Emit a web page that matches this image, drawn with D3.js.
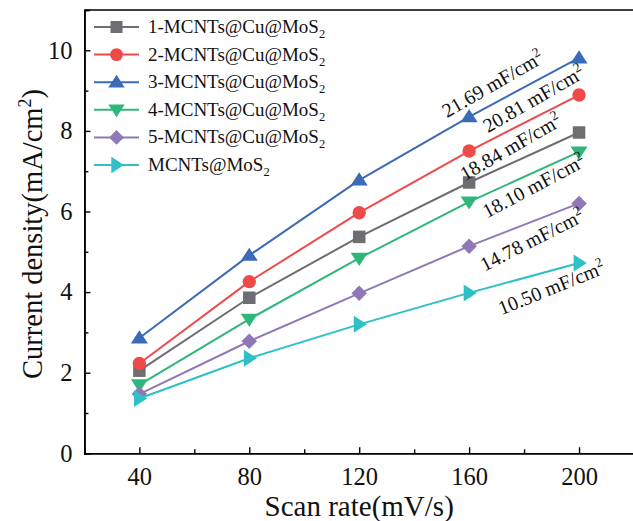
<!DOCTYPE html>
<html>
<head>
<meta charset="utf-8">
<script src="https://cdn.jsdelivr.net/npm/d3@7/dist/d3.min.js"></script>
<style>
  html, body { margin: 0; padding: 0; background: #fff; }
  svg { display: block; }
  text { font-family: "Liberation Serif", "Times New Roman", serif; fill: #111; }
</style>
</head>
<body>
<script>
// ---- data ----
const scanRates = [40, 80, 120, 160, 200];
const seriesNames = ["1-MCNTs@Cu@MoS", "2-MCNTs@Cu@MoS", "3-MCNTs@Cu@MoS", "4-MCNTs@Cu@MoS", "5-MCNTs@Cu@MoS", "MCNTs@MoS"];
const s1 = [2.05, 3.86, 5.37, 6.72, 7.96];
const s2 = [2.23, 4.26, 5.97, 7.50, 8.89];
const s3 = [2.86, 4.91, 6.78, 8.35, 9.81];
const s4 = [1.70, 3.33, 4.84, 6.24, 7.48];
const s5 = [1.47, 2.78, 3.97, 5.14, 6.20];
const s6 = [1.36, 2.36, 3.20, 3.98, 4.72];
const capacitanceLabels = ["18.84", "20.81", "21.69", "18.10", "14.78", "10.50"];
const xTicks = [40, 80, 120, 160, 200];
const yTicks = [0, 2, 4, 6, 8, 10];

const seriesValues = [s1, s2, s3, s4, s5, s6];
const colors = ["#6d6d72", "#ef4a4a", "#3b6ab6", "#2fb67a", "#8f78b6", "#2ec0c5"];
const markers = ["square", "circle", "up", "down", "diamond", "right"];

const W = 633, H = 521;
const svg = d3.select("body").append("svg").attr("width", W).attr("height", H);

const x = d3.scaleLinear().domain([20, 220]).range([84.4, 634]);
const y = d3.scaleLinear().domain([0, 11]).range([453.3, 10]);

// frame
const g = svg.append("g");
g.append("line").attr("x1", x(20)).attr("x2", x(220)).attr("y1", y(11)).attr("y2", y(11))
  .attr("stroke", "#000").attr("stroke-width", 1.6);

// axes
const xAxis = d3.axisBottom(x).tickValues(xTicks).tickSize(-6).tickPadding(14).tickFormat(d3.format("d"));
const yAxis = d3.axisLeft(y).tickValues(yTicks).tickSize(-6).tickPadding(12).tickFormat(d3.format("d"));
const xMinor = d3.axisBottom(x).tickValues([60, 100, 140, 180]).tickSize(-4).tickFormat("");
const yMinor = d3.axisLeft(y).tickValues([1, 3, 5, 7, 9]).tickSize(-4).tickFormat("");

function styleAxis(sel) {
  sel.select(".domain").attr("stroke", "#000").attr("stroke-width", 1.6);
  sel.selectAll(".tick line").attr("stroke", "#000").attr("stroke-width", 1.4);
  sel.selectAll(".tick text").style("font-family", '"Liberation Serif", serif').style("font-size", "24.5px").attr("fill", "#111");
}
const gx = svg.append("g").attr("transform", `translate(0,${y(0)})`).call(xAxis); styleAxis(gx);
const gxm = svg.append("g").attr("transform", `translate(0,${y(0)})`).call(xMinor); styleAxis(gxm);
const gy = svg.append("g").attr("transform", `translate(${x(20)},0)`).call(yAxis); styleAxis(gy);
const gym = svg.append("g").attr("transform", `translate(${x(20)},0)`).call(yMinor); styleAxis(gym);

// axis titles
svg.append("text").attr("x", (x(20) + x(220)) / 2).attr("y", 516).attr("text-anchor", "middle")
  .style("font-size", "29px").text("Scan rate(mV/s)");
const yt = svg.append("text").attr("transform", `translate(42,234) rotate(-90)`).attr("text-anchor", "middle")
  .style("font-size", "28.5px");
yt.append("tspan").text("Current density(mA/cm");
yt.append("tspan").attr("dy", -11).style("font-size", "18px").text("2");
yt.append("tspan").attr("dy", 11).text(")");

// marker symbols
function markerPath(type, size) {
  const s = size;
  switch (type) {
    case "square": return d3.symbol(d3.symbolSquare, s * s)();
    case "circle": return d3.symbol(d3.symbolCircle, Math.PI * (s / 2) * (s / 2) * 1.15)();
    case "diamond": { const r = s * 0.62; return `M0,${-r}L${r},0L0,${r}L${-r},0Z`; }
    case "up": { const r = s * 0.62; return `M0,${-r}L${r * 1.1},${r * 0.7}L${-r * 1.1},${r * 0.7}Z`; }
    case "down": { const r = s * 0.62; return `M0,${r}L${r * 1.1},${-r * 0.7}L${-r * 1.1},${-r * 0.7}Z`; }
    case "right": { const r = s * 0.62; return `M${r},0L${-r * 0.7},${r * 1.1}L${-r * 0.7},${-r * 1.1}Z`; }
  }
}

const line = d3.line().x((d, i) => x(scanRates[i])).y(d => y(d));
seriesValues.forEach((vals, k) => {
  const sg = svg.append("g");
  sg.append("path").attr("d", line(vals)).attr("fill", "none").attr("stroke", colors[k]).attr("stroke-width", 2);
  sg.selectAll("path.m").data(vals).enter().append("path").attr("class", "m")
    .attr("transform", (d, i) => `translate(${x(scanRates[i])},${y(d)})`)
    .attr("d", markerPath(markers[k], 12.5)).attr("fill", colors[k]);
});

// legend
const legendY0 = 27, legendDy = 27.6;
seriesNames.forEach((name, k) => {
  const ly = legendY0 + k * legendDy;
  const lg = svg.append("g");
  lg.append("line").attr("x1", 94).attr("x2", 139).attr("y1", ly).attr("y2", ly).attr("stroke", colors[k]).attr("stroke-width", 2);
  lg.append("path").attr("transform", `translate(116.5,${ly})`).attr("d", markerPath(markers[k], 12)).attr("fill", colors[k]);
  const t = lg.append("text").attr("x", 148).attr("y", ly + 6).style("font-size", "19px");
  t.append("tspan").text(name);
  t.append("tspan").attr("dy", 5).style("font-size", "12.5px").text("2");
});

// capacitance labels (layout: centre position and rotation)
const labelLayout = [
  { cx: 514, cy: 153, rot: -30 },
  { cx: 537, cy: 105, rot: -30 },
  { cx: 496, cy: 90, rot: -30 },
  { cx: 537, cy: 192, rot: -28 },
  { cx: 535, cy: 246, rot: -27 },
  { cx: 554, cy: 294, rot: -22 }
];
capacitanceLabels.forEach((lab, k) => {
  const L = labelLayout[k];
  const t = svg.append("text").attr("transform", `translate(${L.cx},${L.cy}) rotate(${L.rot})`)
    .attr("text-anchor", "middle").style("font-size", "20px");
  t.append("tspan").text(lab + " mF/cm");
  t.append("tspan").attr("dy", -8).style("font-size", "13.5px").text("2");
});
</script>
</body>
</html>
